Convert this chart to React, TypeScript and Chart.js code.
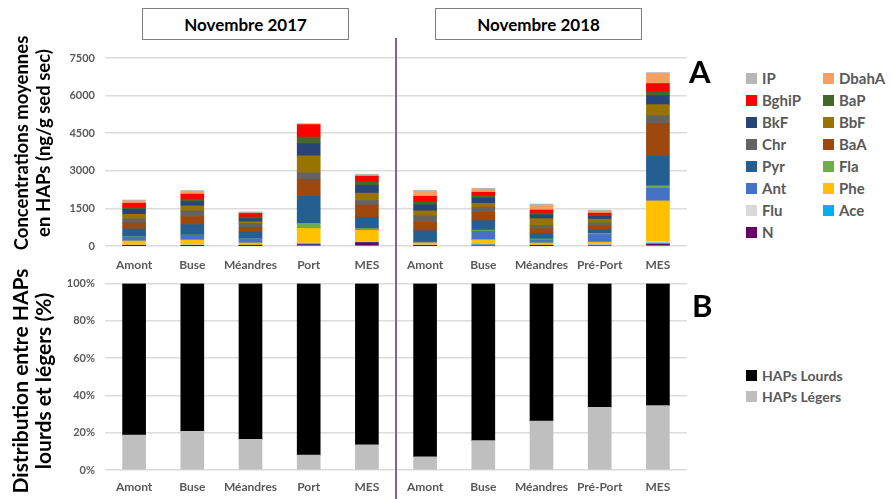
import React, { useEffect, useRef } from 'react';
import { Chart, registerables } from 'chart.js';

Chart.register(...registerables);

// ---- Data ----
const sites = ['Amont', 'Buse', 'Méandres', 'Port', 'MES', 'Amont', 'Buse', 'Méandres', 'Pré-Port', 'MES'];
const periods = ['Novembre 2017', 'Novembre 2018'];

// Concentrations (ng/g sed sec), stacked from bottom to top
const hapN = [15, 15, 10, 55, 135, 15, 35, 10, 30, 65];
const hapAce = [10, 10, 5, 40, 20, 5, 10, 5, 5, 55];
const hapFlu = [15, 30, 10, 25, 20, 25, 20, 10, 25, 55];
const hapPhe = [160, 185, 95, 600, 455, 80, 185, 95, 95, 1625];
const hapAnt = [160, 185, 175, 25, 10, 20, 345, 120, 305, 505];
const hapFla = [15, 15, 10, 160, 55, 10, 40, 40, 40, 95];
const hapPyr = [305, 415, 255, 1080, 455, 455, 375, 225, 160, 1175];
const hapBaA = [240, 320, 185, 680, 480, 335, 335, 185, 160, 1305];
const hapChr = [160, 225, 145, 255, 185, 255, 200, 135, 105, 320];
const hapBbF = [185, 200, 80, 680, 295, 200, 160, 265, 145, 440];
const hapBkF = [200, 175, 120, 480, 305, 240, 200, 145, 120, 360];
const hapBaP = [65, 95, 65, 265, 145, 120, 105, 80, 40, 145];
const hapBghiP = [175, 200, 145, 495, 225, 225, 135, 120, 80, 335];
const hapDbahA = [90, 105, 15, 20, 15, 185, 120, 185, 80, 400];
const hapIP = [40, 40, 50, 20, 65, 55, 40, 55, 40, 40];

const concTicks = [0, 1500, 3000, 4500, 6000, 7500];

// Distribution (%) of light PAHs; heavy = 100 - light
const legersPct = [18.7, 20.7, 16.4, 8.0, 13.5, 7.1, 15.8, 26.3, 33.6, 34.5];
const lourdsPct = legersPct.map((v) => 100 - v);
const pctTicks = [0, 20, 40, 60, 80, 100];

const compoundNames = ['N', 'Ace', 'Flu', 'Phe', 'Ant', 'Fla', 'Pyr', 'BaA', 'Chr', 'BbF', 'BkF', 'BaP', 'BghiP', 'DbahA', 'IP'];
const compoundValues = [hapN, hapAce, hapFlu, hapPhe, hapAnt, hapFla, hapPyr, hapBaA, hapChr, hapBbF, hapBkF, hapBaP, hapBghiP, hapDbahA, hapIP];
const compoundColors = ['#660066', '#00B0F0', '#D9D9D9', '#FFC000', '#4472C4', '#70AD47', '#255E91', '#9E480E', '#636363', '#997300', '#264478', '#43682B', '#FF0000', '#F4A062', '#B7B7B7'];

// ---- Styles ----
const FONT = 'Lato, "Open Sans", sans-serif';
const TICK = '#595959';
const GRID = '#dcdcdc';

function App() {
  const topRef = useRef<HTMLCanvasElement | null>(null);
  const botRef = useRef<HTMLCanvasElement | null>(null);

  useEffect(() => {
    const ctxTop = topRef.current!.getContext('2d')!;
    const ctxBot = botRef.current!.getContext('2d')!;

    const xScale = (h: number, pad: number) => ({
      stacked: true,
      grid: { display: false, drawTicks: false },
      border: { display: false },
      ticks: {
        color: TICK,
        font: { family: FONT, size: 12, weight: 'bold' as const },
        padding: pad,
        maxRotation: 0,
        autoSkip: false,
      },
      afterFit: (s: any) => {
        s.height = h;
      },
    });

    const top = new Chart(ctxTop, {
      type: 'bar',
      data: {
        labels: sites,
        datasets: compoundNames.map((n, i) => ({
          label: n,
          data: compoundValues[i],
          backgroundColor: compoundColors[i],
          borderWidth: 0,
          barThickness: 23,
        })),
      },
      options: {
        animation: false,
        responsive: false,
        maintainAspectRatio: false,
        layout: { padding: { top: 18, right: 8, left: 0, bottom: 0 } },
        plugins: { legend: { display: false }, tooltip: { enabled: false } },
        scales: {
          x: xScale(34, 12) as any,
          y: {
            stacked: true,
            min: 0,
            max: 7500,
            afterBuildTicks: (s: any) => {
              s.ticks = concTicks.map((v) => ({ value: v }));
            },
            ticks: {
              color: TICK,
              font: { family: FONT, size: 11, weight: 'bold' },
              padding: 10,
              callback: (v: any) => String(v),
            },
            grid: { color: GRID, lineWidth: 1.5, drawTicks: false },
            border: { display: false },
            afterFit: (s: any) => {
              s.width = 55;
            },
          },
        },
      },
    });

    const bot = new Chart(ctxBot, {
      type: 'bar',
      data: {
        labels: sites,
        datasets: [
          { label: 'HAPs Légers', data: legersPct, backgroundColor: '#BFBFBF', borderWidth: 0, barThickness: 23 },
          { label: 'HAPs Lourds', data: lourdsPct, backgroundColor: '#000000', borderWidth: 0, barThickness: 23 },
        ],
      },
      options: {
        animation: false,
        responsive: false,
        maintainAspectRatio: false,
        layout: { padding: { top: 16, right: 8, left: 0, bottom: 0 } },
        plugins: { legend: { display: false }, tooltip: { enabled: false } },
        scales: {
          x: xScale(29, 10) as any,
          y: {
            stacked: true,
            min: 0,
            max: 100,
            afterBuildTicks: (s: any) => {
              s.ticks = pctTicks.map((v) => ({ value: v }));
            },
            ticks: {
              color: TICK,
              font: { family: FONT, size: 11, weight: 'bold' },
              padding: 10,
              callback: (v: any) => v + '%',
            },
            grid: { color: GRID, lineWidth: 1.5, drawTicks: false },
            border: { display: false },
            afterFit: (s: any) => {
              s.width = 55;
            },
          },
        },
      },
    });

    return () => {
      top.destroy();
      bot.destroy();
    };
  }, []);

  const legendRows: string[][] = [];
  const legendOrder = [...compoundNames].reverse();
  for (let i = 0; i < legendOrder.length; i += 2) legendRows.push(legendOrder.slice(i, i + 2));

  const colorOf = (n: string) => compoundColors[compoundNames.indexOf(n)];

  const box = (left: number, text: string) => (
    <div
      style={{
        position: 'absolute',
        left,
        top: 8,
        width: 207,
        height: 32,
        boxSizing: 'border-box',
        border: '1px solid #7f7f7f',
        display: 'flex',
        alignItems: 'center',
        justifyContent: 'center',
        fontFamily: FONT,
        fontWeight: 700,
        fontSize: 17,
        color: '#000',
        background: '#fff',
      }}
    >
      {text}
    </div>
  );

  const vtitle = (cx: number, cy: number, size: number, lh: number, lines: string[]) => (
    <div
      style={{
        position: 'absolute',
        left: cx,
        top: cy,
        width: 300,
        transform: 'translate(-50%, -50%) rotate(-90deg)',
        textAlign: 'center',
        fontFamily: FONT,
        fontWeight: 700,
        fontSize: size,
        lineHeight: lh + 'px',
        color: '#000',
        whiteSpace: 'nowrap',
      }}
    >
      {lines.map((l, i) => (
        <div key={i}>{l}</div>
      ))}
    </div>
  );

  const legItem = (x: number, y: number, color: string, text: string, size: number) => (
    <div key={text + x + y} style={{ position: 'absolute', left: x, top: y - 11, height: 22, display: 'flex', alignItems: 'center' }}>
      <div style={{ width: 11, height: 11, background: color, marginRight: 5 }} />
      <span style={{ fontFamily: FONT, fontWeight: 700, fontSize: size, color: TICK }}>{text}</span>
    </div>
  );

  return (
    <div style={{ position: 'absolute', left: 0, top: 0, width: 892, height: 499, background: '#fff', overflow: 'hidden' }}>
      <canvas ref={topRef} width={645} height={240} style={{ position: 'absolute', left: 50, top: 40, width: 645, height: 240 }} />
      <canvas ref={botRef} width={645} height={232} style={{ position: 'absolute', left: 50, top: 267, width: 645, height: 232 }} />
      <div style={{ position: 'absolute', left: 395, top: 38, width: 1.5, height: 461, background: '#7F5FA6' }} />
      {box(142, periods[0])}
      {box(435, periods[1])}
      {vtitle(32, 143, 18.5, 22, ['Concentrations moyennes', 'en HAPs (ng/g sed sec)'])}
      {vtitle(31, 381, 21, 23, ['Distribution entre HAPs', 'lourds et légers (%)'])}
      <div style={{ position: 'absolute', left: 689, top: 52, fontFamily: FONT, fontWeight: 700, fontSize: 31, color: '#000' }}>A</div>
      <div style={{ position: 'absolute', left: 692, top: 286, fontFamily: FONT, fontWeight: 700, fontSize: 31, color: '#000' }}>B</div>
      {legendRows.map((row, r) => row.map((n, c) => legItem(746 + c * 77, 78 + r * 22, colorOf(n), n, 15)))}
      {legItem(746, 375, '#000000', 'HAPs Lourds', 14)}
      {legItem(746, 396, '#BFBFBF', 'HAPs Légers', 14)}
    </div>
  );
}

export default App;
